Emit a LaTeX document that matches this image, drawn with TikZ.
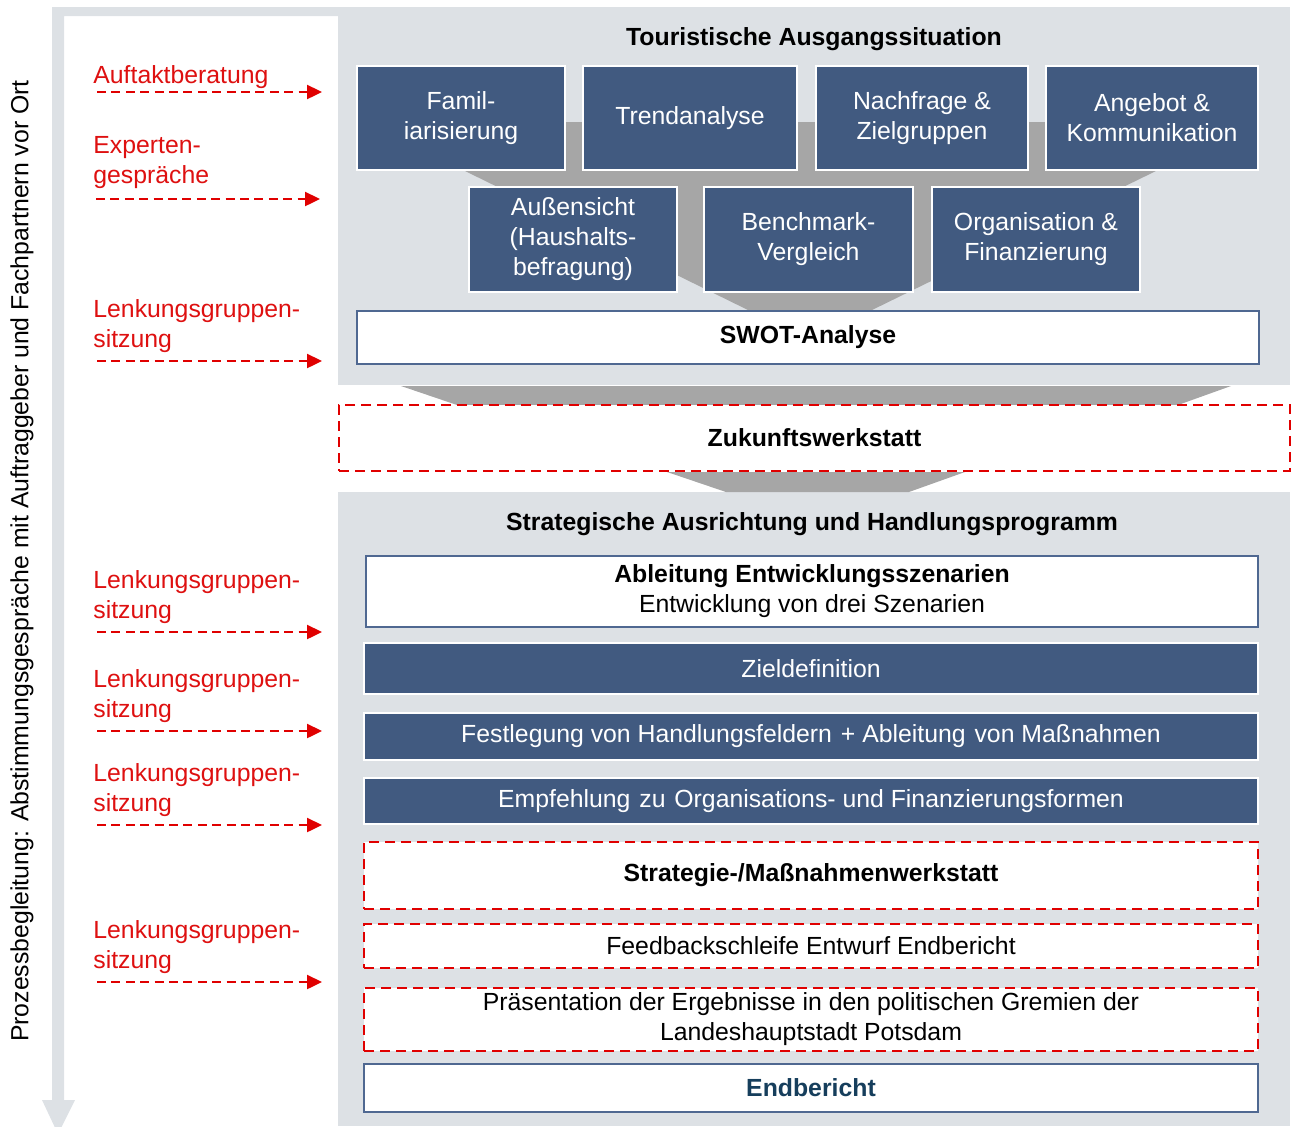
\documentclass[tikz,border=0pt]{standalone}
\usepackage{fontspec}
\setmainfont{Liberation Sans}
\usetikzlibrary{arrows.meta}

\definecolor{panelgray}{RGB}{221,225,229}
\definecolor{funnelgray}{RGB}{166,166,166}
\definecolor{boxblue}{RGB}{65,90,128}
\definecolor{lineblue}{RGB}{79,104,145}
\definecolor{markred}{RGB}{224,0,0}
\definecolor{labelred}{RGB}{222,16,16}
\definecolor{endteal}{RGB}{22,62,92}

\begin{document}
\begin{tikzpicture}[x=0.5pt, y=-0.5pt, font=\fontsize{12.4}{15}\selectfont,
    bluebox/.style={fill=boxblue, draw=white, line width=1pt, text=white, align=center, inner sep=0pt},
    whitebox/.style={fill=white, draw=lineblue, line width=1pt, align=center, inner sep=0pt},
    redbox/.style={fill=white, draw=markred, line width=1.4pt, dash pattern=on 5pt off 3pt, align=center, inner sep=0pt},
    redlabel/.style={text=labelred, align=left, anchor=west, inner sep=0pt},
    redarrow/.style={draw=markred, line width=1.2pt, dash pattern=on 4.5pt off 2.7pt, -{Triangle[length=7.5pt, width=7pt]}},
    heading/.style={font=\fontsize{12.4}{15}\selectfont\bfseries}]
    \useasboundingbox (0,0) rectangle (1296,1126);

    % gray panels and funnels
    \fill[panelgray] (338,7) rectangle (1290,385);
    \fill[panelgray] (338,492) rectangle (1290,1126);
    \fill[funnelgray] (463,122) -- (1158,122) -- (1158,170) -- (870,311) -- (750,311) -- (463,170) -- cycle;
    \fill[funnelgray] (401,386) -- (1231,386) -- (1178,405) -- (457,405) -- cycle;
    \fill[funnelgray] (667,472) -- (965,472) -- (909,492) -- (726,492) -- cycle;

    % process arrow on the left
    \fill[panelgray] (52,7) -- (338,7) -- (338,16) -- (64,16) -- (64,1100) -- (75,1100)
        -- (58,1134) -- (42,1100) -- (52,1100) -- cycle;
    \node[rotate=90] (proc) at (22,561) {Prozessbegleitung: Abstimmungsgespräche mit Auftraggeber und Fachpartnern vor Ort};

    % Touristische Ausgangssituation
    \node[heading] (top) at (814,39) {Touristische Ausgangssituation};
    \node[bluebox, minimum width=104pt, minimum height=52pt] (fam) at (461,118) {Famil-\\iarisierung};
    \node[bluebox, minimum width=107pt, minimum height=52pt] (trend) at (690,118) {Trendanalyse};
    \node[bluebox, minimum width=106pt, minimum height=52pt] (nach) at (922,118) {Nachfrage \&\\Zielgruppen};
    \node[bluebox, minimum width=106pt, minimum height=52pt] (ang) at (1152,118) {Angebot \&\\Kommunikation};
    \node[bluebox, minimum width=104pt, minimum height=52.5pt] (auss) at (573,239.5) {Außensicht\\(Haushalts-\\befragung)};
    \node[bluebox, minimum width=104.5pt, minimum height=52.5pt] (bench) at (808.5,239.5) {Benchmark-\\Vergleich};
    \node[bluebox, minimum width=104pt, minimum height=52.5pt] (orga) at (1036,239.5) {Organisation \&\\Finanzierung};
    \node[whitebox, minimum width=451pt, minimum height=26.5pt, heading] (swot) at (808,337.5) {SWOT-Analyse};

    % Zukunftswerkstatt
    \node[redbox, minimum width=475.5pt, minimum height=33pt, heading] (zuk) at (814.5,438) {Zukunftswerkstatt};

    % Strategische Ausrichtung und Handlungsprogramm
    \node[heading] (bot) at (812,524) {Strategische Ausrichtung und Handlungsprogramm};
    \node[whitebox, minimum width=446pt, minimum height=35.5pt] (abl) at (812,591.5) {\textbf{Ableitung Entwicklungsszenarien}\\Entwicklung von drei Szenarien};
    \node[bluebox, minimum width=447pt, minimum height=25.5pt] (ziel) at (811,668.5) {Zieldefinition};
    \node[bluebox, minimum width=447pt, minimum height=23.5pt] (fest) at (811,736.5) {Festlegung von Handlungsfeldern\hspace{1pt} + Ableitung\hspace{1pt} von Maßnahmen};
    \node[bluebox, minimum width=447pt, minimum height=23pt] (empf) at (811,801) {Empfehlung\hspace{1pt} zu\hspace{1pt} Organisations- und Finanzierungsformen};
    \node[redbox, minimum width=447pt, minimum height=33.5pt, heading] (strat) at (811,875.5) {Strategie-/Maßnahmenwerkstatt};
    \node[redbox, minimum width=447pt, minimum height=22pt] (feed) at (811,946) {Feedbackschleife Entwurf Endbericht};
    \node[redbox, minimum width=447pt, minimum height=31.5pt] (praes) at (811,1019.5) {Präsentation der Ergebnisse in den politischen Gremien der\\Landeshauptstadt Potsdam};
    \node[whitebox, minimum width=447pt, minimum height=24pt, heading, text=endteal] (endb) at (811,1088) {Endbericht};

    % meetings
    \node[redlabel] (m1) at (93,77) {Auftaktberatung};
    \node[redlabel] (m2) at (93,163) {Experten-\\gespräche};
    \node[redlabel] (m3) at (93,326) {Lenkungsgruppen-\\sitzung};
    \node[redlabel] (m4) at (93,597) {Lenkungsgruppen-\\sitzung};
    \node[redlabel] (m5) at (93,696) {Lenkungsgruppen-\\sitzung};
    \node[redlabel] (m6) at (93,790) {Lenkungsgruppen-\\sitzung};
    \node[redlabel] (m7) at (93,947) {Lenkungsgruppen-\\sitzung};

    \coordinate (s1) at (97,92);  \coordinate (e1) at (322,92);
    \coordinate (s2) at (96,199); \coordinate (e2) at (320,199);
    \coordinate (s3) at (97,361); \coordinate (e3) at (322,361);
    \coordinate (s4) at (97,632); \coordinate (e4) at (322,632);
    \coordinate (s5) at (97,731); \coordinate (e5) at (322,731);
    \coordinate (s6) at (97,825); \coordinate (e6) at (322,825);
    \coordinate (s7) at (97,982); \coordinate (e7) at (322,982);
    \draw[redarrow] (s1) -- (e1);
    \draw[redarrow] (s2) -- (e2);
    \draw[redarrow] (s3) -- (e3);
    \draw[redarrow] (s4) -- (e4);
    \draw[redarrow] (s5) -- (e5);
    \draw[redarrow] (s6) -- (e6);
    \draw[redarrow] (s7) -- (e7);
\end{tikzpicture}
\end{document}
